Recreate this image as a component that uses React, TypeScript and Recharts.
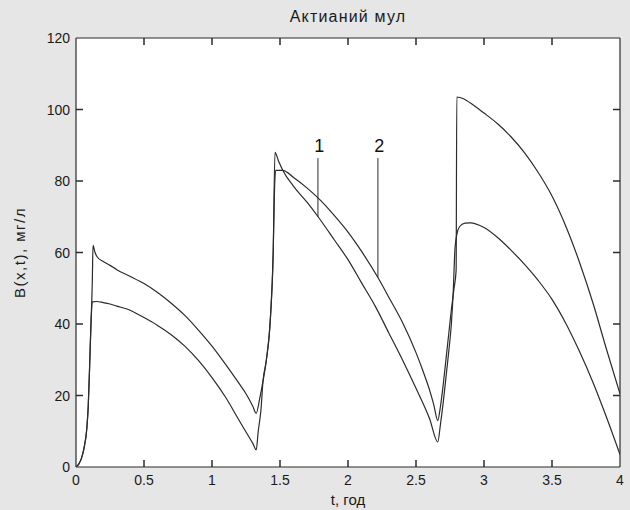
import { LineChart, Line, XAxis, YAxis, ReferenceLine, ReferenceDot } from "recharts";

// [t, B] pairs
const curve1: [number, number][] = [
  [0, 0], [0.02, 0.8], [0.04, 2.4], [0.06, 5.5], [0.08, 11], [0.09, 17], [0.1, 28], [0.11, 40], [0.12, 46.2],
  [0.15, 46.3], [0.2, 46], [0.25, 45.6], [0.3, 45], [0.375, 44.2], [0.5, 41.8], [0.6, 39.6], [0.7, 37], [0.8, 33.8],
  [0.9, 29.8], [1.0, 25], [1.1, 19.5], [1.2, 13], [1.25, 9.8], [1.3, 6.6], [1.325, 4.8],
  [1.34, 10], [1.36, 16], [1.375, 24], [1.4, 30], [1.43, 42], [1.45, 60], [1.463, 88],
  [1.49, 85.5], [1.52, 83], [1.6, 78.5], [1.7, 74], [1.78, 70], [1.9, 63.5], [2.0, 58], [2.1, 51.5], [2.2, 45],
  [2.3, 37.5], [2.4, 30], [2.5, 22], [2.6, 13.5], [2.66, 7],
  [2.68, 12], [2.7, 18], [2.72, 25], [2.74, 32], [2.76, 40], [2.775, 50], [2.785, 60], [2.8, 65], [2.82, 67.2],
  [2.86, 68.2], [2.9, 68.3], [3.0, 67], [3.1, 64.2], [3.2, 60.6], [3.3, 56.6], [3.4, 52.1], [3.5, 46.9],
  [3.6, 40.3], [3.7, 32.5], [3.8, 23.8], [3.9, 14], [4.0, 3.5],
];

const curve2: [number, number][] = [
  [0, 0], [0.02, 0.8], [0.04, 2.4], [0.06, 5.5], [0.08, 11], [0.09, 17], [0.1, 28], [0.11, 40], [0.12, 52], [0.125, 62],
  [0.14, 60], [0.155, 58.8], [0.2, 57.5], [0.25, 56.4], [0.3, 55.2], [0.4, 53.3], [0.5, 51.3], [0.6, 48.8],
  [0.7, 45.8], [0.8, 42.4], [0.9, 38.3], [1.0, 33.8], [1.1, 28.7], [1.2, 23.3], [1.25, 20.5], [1.3, 17], [1.325, 15],
  [1.35, 19], [1.375, 24], [1.4, 30], [1.43, 42], [1.45, 60], [1.46, 78], [1.468, 83],
  [1.52, 83], [1.6, 81], [1.7, 78], [1.8, 74.5], [1.9, 70.3], [2.0, 65.7], [2.1, 60.3], [2.22, 53], [2.3, 47.5],
  [2.4, 40.5], [2.5, 32], [2.55, 27], [2.6, 21.5], [2.63, 17.5], [2.66, 13],
  [2.68, 17], [2.7, 23], [2.72, 30], [2.74, 37], [2.76, 44], [2.78, 50], [2.795, 55], [2.8, 103.5],
  [2.85, 103], [2.9, 101.8], [3.0, 99], [3.1, 96], [3.2, 92.3], [3.3, 87.8], [3.4, 82.3], [3.5, 75.8],
  [3.6, 67.5], [3.7, 57.5], [3.8, 46], [3.9, 33], [4.0, 20.5],
];

const xTicks = [0, 0.5, 1, 1.5, 2, 2.5, 3, 3.5, 4];
const yTicks = [0, 20, 40, 60, 80, 100, 120];

// curve number, t, top of pointer line, end on the curve
const pointers = [
  { name: "1", t: 1.779, top: 86.4, end: 70, text: 89.8 },
  { name: "2", t: 2.22, top: 86.4, end: 53, text: 89.8 },
];

const TITLE = "Актианий мул";
const X_LABEL = "t, год";
const Y_LABEL = "B(x,t), мг/л";

const X_MAX = 4;
const Y_MAX = 120;
const PLOT_W = 544;
const PLOT_H = 429;
const TICK_PX = 7;

const INK = "#2b2b2b";
const FONT = "'Liberation Sans', Arial, sans-serif";

const toRows = (pts: [number, number][]) => pts.map(([t, v]) => ({ t, v }));

// inward tick marks on all four sides, length turned into data units
const dx = (TICK_PX * X_MAX) / PLOT_W;
const dy = (TICK_PX * Y_MAX) / PLOT_H;
const tickSegments = [
  ...xTicks.slice(1, -1).flatMap((t) => [
    [{ x: t, y: 0 }, { x: t, y: dy }],
    [{ x: t, y: Y_MAX }, { x: t, y: Y_MAX - dy }],
  ]),
  ...yTicks.slice(1, -1).flatMap((v) => [
    [{ x: 0, y: v }, { x: dx, y: v }],
    [{ x: X_MAX, y: v }, { x: X_MAX - dx, y: v }],
  ]),
];

const BottomTick = ({ x, y, payload }: any) => (
  <text x={x} y={y + 18} textAnchor="middle" fontSize={14} fontFamily={FONT} fill="#1a1a1a">
    {payload.value}
  </text>
);

const LeftTick = ({ x, y, payload }: any) => (
  <text x={x - 6} y={y + 5} textAnchor="end" fontSize={14} fontFamily={FONT} fill="#1a1a1a">
    {payload.value}
  </text>
);

const NoLabel = () => <g />;

const TitleLabel = ({ viewBox }: any) => (
  <text x={viewBox.x + viewBox.width / 2} y={viewBox.y + 22} textAnchor="middle" fontSize={16} fontFamily={FONT} fill="#1a1a1a" letterSpacing={1.2}>
    {TITLE}
  </text>
);

const XLabel = ({ viewBox }: any) => (
  <text x={viewBox.x + viewBox.width / 2} y={viewBox.y + 38} textAnchor="middle" fontSize={15} fontFamily={FONT} fill="#1a1a1a">
    {X_LABEL}
  </text>
);

const YLabel = ({ viewBox }: any) => {
  const cx = viewBox.x + 25;
  const cy = viewBox.y + viewBox.height / 2;
  return (
    <text x={cx} y={cy} transform={`rotate(-90, ${cx}, ${cy})`} textAnchor="middle" fontSize={15} fontFamily={FONT} fill="#1a1a1a" letterSpacing={1.5}>
      {Y_LABEL}
    </text>
  );
};

const axisCommon = {
  type: "number" as const,
  interval: 0 as const,
  tickSize: 0,
  tickMargin: 0,
  tickLine: false,
  axisLine: { stroke: INK, strokeWidth: 1.2 },
};

export default function App() {
  return (
    <div style={{ position: "absolute", left: 0, top: 0, width: 630, height: 510, background: "#e6e6e6" }}>
      {/* white plot face behind the svg */}
      <div style={{ position: "absolute", left: 76, top: 38, width: PLOT_W, height: PLOT_H, background: "#ffffff" }} />
      <div style={{ position: "absolute", left: 0, top: 0 }}>
        <LineChart width={630} height={510} margin={{ top: 0, right: 0, bottom: 0, left: 0 }}>
          <XAxis {...axisCommon} dataKey="t" domain={[0, X_MAX]} ticks={xTicks} height={43} tick={BottomTick} label={<XLabel />} allowDataOverflow />
          <XAxis {...axisCommon} xAxisId="top" orientation="top" domain={[0, X_MAX]} ticks={xTicks} height={38} tick={NoLabel} label={<TitleLabel />} />
          <YAxis {...axisCommon} domain={[0, Y_MAX]} ticks={yTicks} width={76} tick={LeftTick} label={<YLabel />} allowDataOverflow />
          <YAxis {...axisCommon} yAxisId="right" orientation="right" domain={[0, Y_MAX]} ticks={yTicks} width={10} tick={NoLabel} />
          {tickSegments.map((seg, i) => (
            <ReferenceLine key={`t${i}`} segment={seg} stroke={INK} strokeWidth={1.5} />
          ))}
          <Line data={toRows(curve1)} dataKey="v" type="monotone" stroke={INK} strokeWidth={1.2} dot={false} isAnimationActive={false} />
          <Line data={toRows(curve2)} dataKey="v" type="monotone" stroke={INK} strokeWidth={1.2} dot={false} isAnimationActive={false} />
          {pointers.map((p) => (
            <ReferenceLine
              key={`l${p.name}`}
              segment={[{ x: p.t, y: p.top }, { x: p.t, y: p.end }]}
              stroke={INK}
              strokeWidth={1}
            />
          ))}
          {pointers.map((p) => (
            <ReferenceDot
              key={`d${p.name}`}
              x={p.t + 0.01}
              y={p.text}
              r={0}
              stroke="none"
              label={{ value: p.name, position: "center", fontSize: 18, fontFamily: FONT, fill: "#111" }}
            />
          ))}
        </LineChart>
      </div>
    </div>
  );
}
